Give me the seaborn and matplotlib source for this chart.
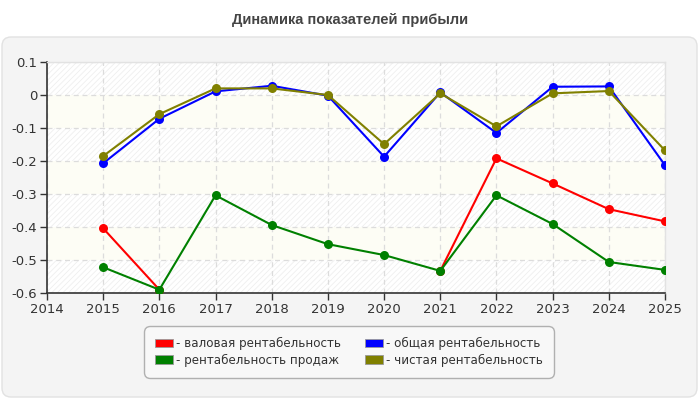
import numpy as np
import pandas as pd
import seaborn as sns
import matplotlib.pyplot as plt
import matplotlib.transforms as mtransforms
from matplotlib.patches import FancyBboxPatch, Patch

sns.set_style('white')
plt.rcParams['font.family'] = ['DejaVu Sans']
plt.rcParams['hatch.linewidth'] = 0.6

years = list(range(2015, 2026))
gross = [-0.404, -0.590, np.nan, np.nan, np.nan, np.nan, -0.533, -0.192, -0.268, -0.346, -0.383]
sales = [-0.522, -0.590, -0.304, -0.394, -0.452, -0.485, -0.533, -0.304, -0.391, -0.506, -0.530]
total = [-0.207, -0.072, 0.011, 0.028, -0.002, -0.187, 0.008, -0.115, 0.025, 0.026, -0.213]
net = [-0.185, -0.058, 0.020, 0.020, 0.000, -0.149, 0.005, -0.095, 0.005, 0.012, -0.168]

names = ['валовая рентабельность', 'рентабельность продаж',
         'общая рентабельность', 'чистая рентабельность']
colors = ['#ff0000', '#008000', '#0000ff', '#808000']
y_ticks = [0.1, 0, -0.1, -0.2, -0.3, -0.4, -0.5, -0.6]
x_ticks = list(range(2014, 2026))

rows = []
for name, vals in zip(names, [gross, sales, total, net]):
    seg = 0
    for yr, v in zip(years, vals):
        if np.isnan(v):
            seg += 1
            continue
        rows.append({'year': yr, 'value': v, 'series': name, 'seg': seg})
df = pd.DataFrame(rows)

fig = plt.figure(figsize=(7, 4), dpi=100)
fig.patch.set_facecolor('white')

# rounded grey panel behind the chart
panel = FancyBboxPatch((2, 3), 695, 360, boxstyle='round,pad=0,rounding_size=9',
                       transform=mtransforms.IdentityTransform(),
                       facecolor='#f4f4f4', edgecolor='#e2e2e2', linewidth=1, zorder=0)
fig.add_artist(panel)

fig.text(0.5, 0.95, 'Динамика показателей прибыли', ha='center', va='center',
         fontsize=10.5, fontweight='bold', color='#444444', family='Liberation Sans')

ax = fig.add_axes([47 / 700, 1 - 293 / 400, 618 / 700, 231 / 400])
ax.set_facecolor('white')

# alternating bands
for i, (hi, lo) in enumerate(zip(y_ticks[:-1], y_ticks[1:])):
    if i % 2 == 0:
        ax.axhspan(lo, hi, facecolor='white', edgecolor='#efefef', hatch='//////',
                   linewidth=0, zorder=0)
    else:
        ax.axhspan(lo, hi, facecolor='#fdfdf5', linewidth=0, zorder=0)

for name, c in zip(names, colors):
    sub = df[df['series'] == name]
    sns.lineplot(data=sub, x='year', y='value', units='seg', estimator=None,
                 color=c, marker='o', markersize=6.5, markeredgewidth=0,
                 linewidth=1.5, ax=ax, zorder=3, legend=False)

ax.set_xlim(2014, 2025)
ax.set_ylim(-0.6, 0.1)
ax.set_xticks(x_ticks)
ax.set_xticklabels([str(x) for x in x_ticks])
ax.set_yticks(y_ticks)
ax.set_yticklabels([f'{v:g}' for v in y_ticks])
ax.set_xlabel('')
ax.set_ylabel('')
ax.grid(True, color='#dcdcdc', linestyle=(0, (4, 3)), linewidth=0.9, zorder=1)
ax.set_axisbelow(True)
ax.tick_params(axis='both', direction='out', length=5, width=1, colors='#333333',
               labelsize=9.5, pad=2, left=True, bottom=True)
for s in ['left', 'bottom']:
    ax.spines[s].set_color('#333333')
    ax.spines[s].set_linewidth(1.2)
for s in ['top', 'right']:
    ax.spines[s].set_color('#e2e2e2')
    ax.spines[s].set_linewidth(1)

handles = [Patch(facecolor=c, edgecolor='#999999', linewidth=0.6) for c in colors]
leg = fig.legend(handles, ['- ' + n for n in names], ncol=2, loc='center',
                 bbox_to_anchor=(349 / 700, 1 - 352 / 400), frameon=True,
                 fontsize=8.6, handlelength=1.5, handleheight=0.75, handletextpad=0.25,
                 columnspacing=2.0, labelspacing=0.3, borderpad=0.9, fancybox=True,
                 labelcolor='#333333')
frame = leg.get_frame()
frame.set_facecolor('#f8f8f8')
frame.set_edgecolor('#b0b0b0')
frame.set_alpha(1)
frame.set_boxstyle('round,pad=0,rounding_size=0.5')

fig.savefig('out.png', dpi=100)
